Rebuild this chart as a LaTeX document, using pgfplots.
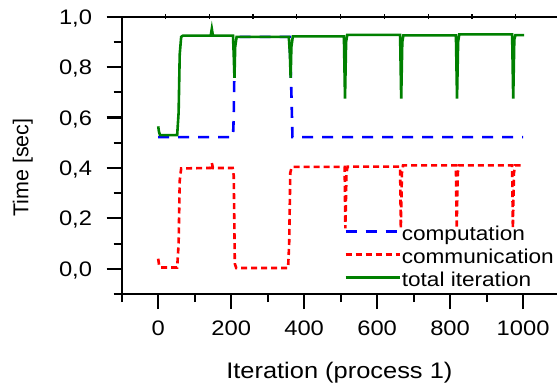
\documentclass[border=0pt]{standalone}
\usepackage{fontspec}
\setmainfont[FakeStretch=1.13]{Liberation Sans}
\newfontfamily\yfont{Liberation Sans}
\usepackage{pgfplots}
\pgfplotsset{compat=1.18}
\definecolor{cblue}{RGB}{0,0,255}
\definecolor{cred}{RGB}{255,0,0}
\definecolor{cgreen}{RGB}{0,128,0}
\begin{document}
\begin{tikzpicture}
\begin{axis}[
  at={(0,0)}, anchor=south west,
  scale only axis, width=435.3bp, height=277.3bp,
  xmin=-100, xmax=1093, ymin=-0.1, ymax=1.0,
  axis x line*=bottom, axis y line*=left,
  axis line style={line width=2.3bp, -},
  tick align=outside,
  major tick length=15bp, minor tick length=8bp,
  tick style={line width=2.1bp, black},
  xtick={0,200,400,600,800,1000},
  xticklabels={0,200,400,600,800,1000},
  minor xtick={-100,100,300,500,700,900},
  ytick={0,0.2,0.4,0.6,0.8,1.0},
  yticklabels={{0,0},{0,2},{0,4},{0,6},{0,8},{1,0}},
  minor ytick={-0.1,0.1,0.3,0.5,0.7,0.9},
  xticklabel style={font=\fontsize{21bp}{25bp}\selectfont, inner sep=0pt, anchor=base, yshift=-26bp},
  yticklabel style={font=\fontsize{21bp}{25bp}\selectfont, inner sep=0pt, anchor=base east, xshift=-14.5bp, yshift=-7.5bp},
  legend style={draw=none, fill=none, at={(rel axis cs:0.5107,0.2488)}, anchor=north west,
    inner sep=0pt, font=\fontsize{20bp}{24bp}\selectfont,
    nodes={inner sep=0pt, text height=15bp, text depth=5bp},
    row sep=3bp, column sep=1bp},
  legend cell align=left,
  legend image code/.code={\draw[#1] (0bp,4bp) -- (54bp,4bp);},
  clip=false,
]
\addplot[cblue, line width=2.6bp, dash pattern=on 11bp off 9bp] coordinates {
(0,0.522) (205,0.522) (207,0.60) (210,0.92) (360,0.92) (365,0.70) (368,0.522) (1000,0.522)
};
\addlegendentry{computation}
\addplot[cred, line width=2.6bp, dash pattern=on 6bp off 4bp] coordinates {
(0,0.04) (3,0.01) (8,0.005) (52,0.005) (56,0.1) (59,0.35) (63,0.398) (144,0.40) (147,0.42) (150,0.40)
(204,0.40) (207,0.37) (210,0.02) (214,0.003) (356,0.003) (359,0.1) (362,0.38) (366,0.404)
(511,0.404) (513,0.16) (516,0.38) (519,0.405) (663,0.405) (665,0.16) (668,0.38) (671,0.41)
(816,0.41) (818,0.16) (821,0.38) (824,0.41) (970,0.41) (972,0.16) (975,0.38) (978,0.41) (1003,0.41)
};
\addlegendentry{communication}
\addplot[cgreen, line width=2.6bp] coordinates {
(0,0.565) (2,0.545) (5,0.53) (52,0.53) (56,0.62) (59,0.85) (63,0.92) (68,0.925) (144,0.925) (147,0.952) (150,0.925)
(205,0.925) (207,0.85) (209,0.757) (211,0.88) (215,0.92) (358,0.92) (361,0.85) (363,0.757) (365,0.88) (369,0.922)
(509,0.922) (512,0.675) (515,0.90) (518,0.928) (663,0.928) (666,0.675) (669,0.90) (672,0.926)
(816,0.926) (819,0.675) (822,0.90) (825,0.93) (970,0.93) (973,0.675) (976,0.91) (979,0.927) (1003,0.927)
};
\addlegendentry{total iteration}
\node[anchor=base, font=\fontsize{22.5bp}{27bp}\selectfont] at ([yshift=-84bp]rel axis cs:0.5,0) {Iteration (process 1)};
\node[anchor=base, rotate=90, font=\yfont\fontsize{21.5bp}{26bp}\selectfont] at ([xshift=-93.2bp]rel axis cs:0,0.456) {Time [sec]};
\end{axis}
\begin{axis}[
  at={(0,0)}, anchor=south west,
  scale only axis, width=435.3bp, height=277.3bp,
  xmin=-100, xmax=1093, ymin=-0.1, ymax=1.0,
  axis x line*=top, axis y line=none,
  axis line style={line width=2.3bp, -},
  xtick={20,140,260,380,500,620,740,860,980},
  xticklabels={}, ytick=\empty,
  tick align=center, major tick length=5bp,
  tick style={line width=1.2bp, black},
]
\end{axis}
\pgfresetboundingbox
\path[use as bounding box] (-121.7bp,-95bp) rectangle (435.3bp,294bp);
\end{tikzpicture}
\end{document}
